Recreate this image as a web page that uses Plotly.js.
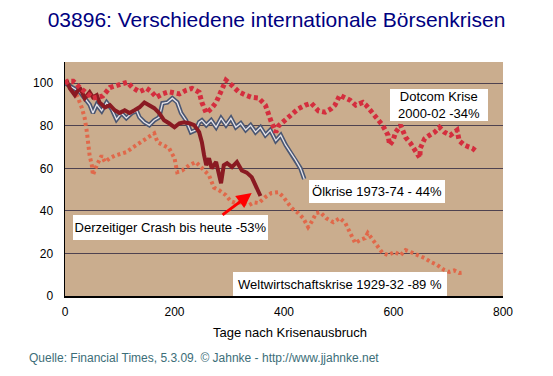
<!DOCTYPE html>
<html><head><meta charset="utf-8">
<script src="https://cdn.plot.ly/plotly-3.0.1.min.js"></script>
<style>html,body{margin:0;padding:0;background:#fff}#chart{width:553px;height:376px}</style>
</head><body><div id="chart"></div>
<script>
// Weltwirtschaftskrise 1929-32
const weltDays = [0,5,15,24,31,36,40,42,45,49,51,58,67,73,82,91,103,112,122,131,141,154,163,169,178,190,200,205,214,227,239,250,263,272,281,294,303,312,321,336,345,354,366,377,390,399,414,426,435,444,450,459,466,477,490,502,512,521,530,539,548,553,562,571,580,590,602,613,622,631,644,657,668,680,693,702,711,720,727];
const weltVals = [100,100.5,97.6,93,88.3,83.6,77,71,66,61.5,56.8,61.5,66,63,64.8,66,66.7,67.6,69.5,71,72.3,74.6,76.5,72.3,71,69.5,64.8,58.2,59,61.5,63,60,56.8,51,49.8,47.4,44.5,43.7,44,42.7,44,43.7,46.5,48.4,48.8,46.5,41.3,39,36.6,32.4,34.7,39,39.4,36.6,34.7,36.6,34.3,29.6,24.9,26.3,27.2,29.6,26.3,23,20.2,19.2,20.7,19.2,21.6,20.7,19.2,17.8,16,14.6,12.2,11.3,12,10.8,11];
// Ölkrise 1973-74
const oilDays = [0,13,27,45,51,58,67,76,85,94,103,112,122,131,136,145,154,163,172,178,187,196,205,212,221,230,239,245,250,258,267,276,285,294,303,312,321,330,339,348,357,366,375,385,394,403,412,421,430,437];
const oilVals = [100,98,96,90,86,90,87,91,88,83,86,83.6,86,87,84,81.7,80.3,82.6,84,90.6,91,93,91,86,82.6,77,78,81.7,82.6,80.3,82.6,79.3,83.6,80.3,83.6,79.3,81.2,78,80.3,77,79.3,75.6,78,73,75.6,71,67.6,64,60,55];
// Derzeitiger Crash
const crashDays = [0,4,9,18,27,36,45,51,58,63,73,82,91,100,109,118,127,136,145,154,163,172,181,190,200,209,218,227,236,245,250,254,258,263,268,276,281,285,290,296,305,314,323,332,341,348,354,357];
const crashVals = [100,100.5,97.6,94.4,98,93,95.8,93.4,94.4,91,88.7,89.7,87.3,86,87.3,86,87.3,88.7,91,89.7,88.3,86,82.6,81.2,79.3,81.2,81.7,81.2,80.3,77,72.3,66.2,61.5,64.8,60,63,58,53,61.5,62.4,60.6,63,59,58,55.9,52,49,47];
// Dotcom 2000-02
const dotcomDays = [0,5,15,27,51,69,82,103,114,123,136,149,158,167,178,190,209,221,232,245,250,258,267,276,287,294,305,317,330,341,354,366,377,385,390,403,414,426,439,450,463,475,486,493,502,512,521,531,544,550,562,571,580,590,593,599,604,613,622,631,640,648,649,657,666,675,684,693,704,716,720,729,738,744,753];
const dotcomVals = [100,101,101,98,93,94,98,100,100.5,98,96,97.6,96,93.4,95,96,95,96.7,97.6,95.8,91,86,88,91,97.6,101.4,99,96,94.4,93.4,93,89.7,81.7,77,80,83,86,88,89.7,90.6,87,86.4,88,89.7,94.4,93.4,92,89.7,91,89.7,86,83.6,80.3,75.6,71,73,77,80.3,74.6,71.8,68.5,65,69.5,74,75.6,77,79.3,77,75.6,78,73,71,70,69.5,67.6];

const xTicks = [0,200,400,600,800];
const yTicks = [0,20,40,60,80,100];

const titleText = '03896: Verschiedene internationale Börsenkrisen';
const xTitle = 'Tage nach Krisenausbruch';
const sourceText = 'Quelle: Financial Times, 5.3.09. © Jahnke - http://www.jjahnke.net';
const labelDotcom = 'Dotcom Krise<br>2000-02 -34%';
const labelOil = 'Ölkrise 1973-74 - 44%';
const labelCrash = 'Derzeitiger Crash bis heute -53%';
const labelWelt = 'Weltwirtschaftskrise 1929-32 -89 %';

const FONT = 'Arial, "Liberation Sans", sans-serif';

const traces = [
  {x: weltDays, y: weltVals, mode: 'lines', line: {color: '#E0684A', width: 4, dash: '3px,3px'}, hoverinfo: 'skip'},
  {x: oilDays, y: oilVals, mode: 'lines', line: {color: '#4A5672', width: 4.5}, hoverinfo: 'skip'},
  {x: oilDays, y: oilVals, mode: 'lines', line: {color: '#E6E4EA', width: 1.3}, hoverinfo: 'skip'},
  {x: crashDays, y: crashVals, mode: 'lines', line: {color: '#8A1A22', width: 4}, hoverinfo: 'skip'},
  {x: dotcomDays, y: dotcomVals, mode: 'lines', line: {color: '#D42E3E', width: 5, dash: '4px,3px'}, hoverinfo: 'skip'}
];

const layout = {
  width: 553, height: 376,
  margin: {l: 65, r: 50, t: 62, b: 80},
  paper_bgcolor: '#ffffff',
  plot_bgcolor: '#CAAD8E',
  showlegend: false,
  font: {family: FONT, size: 12, color: '#000'},
  title: {text: titleText, font: {family: FONT, size: 21, color: '#000080'}, x: 0.5, xref: 'container', y: 0.947, yref: 'container', yanchor: 'middle'},
  xaxis: {range: [0, 800], tickvals: xTicks, ticktext: xTicks.map(String), showgrid: false, zeroline: false,
          showline: true, linecolor: '#000', linewidth: 1.5, ticks: 'outside', ticklen: 4, tickcolor: 'rgba(0,0,0,0)',
          tickfont: {family: FONT, size: 12, color: '#000'}, fixedrange: true},
  yaxis: {range: [0, 110], tickvals: yTicks, ticktext: yTicks.map(String), showgrid: true, gridcolor: '#4E4250', gridwidth: 1,
          zeroline: false, showline: true, linecolor: '#000', linewidth: 1.5, ticks: 'outside', ticklen: 8, tickcolor: 'rgba(0,0,0,0)',
          tickfont: {family: FONT, size: 12, color: '#000'}, fixedrange: true},
  annotations: [
    {x: 683, y: 90, xref: 'x', yref: 'y', text: labelDotcom, showarrow: false, bgcolor: '#fff', width: 98, height: 32,
     borderpad: 0, borderwidth: 0, font: {family: FONT, size: 13, color: '#000'}, align: 'center'},
    {x: 570, y: 49.1, xref: 'x', yref: 'y', text: labelOil, showarrow: false, bgcolor: '#fff', width: 136, height: 23,
     borderpad: 0, borderwidth: 0, font: {family: FONT, size: 13, color: '#000'}},
    {x: 193, y: 32.2, xref: 'x', yref: 'y', text: labelCrash, showarrow: false, bgcolor: '#fff', width: 195, height: 25,
     borderpad: 0, borderwidth: 0, font: {family: FONT, size: 13, color: '#000'}},
    {x: 502, y: 5.6, xref: 'x', yref: 'y', text: labelWelt, showarrow: false, bgcolor: '#fff', width: 214, height: 24,
     borderpad: 0, borderwidth: 0, font: {family: FONT, size: 13, color: '#000'}},
    {x: 341, y: 48.4, ax: 285, ay: 37.6, xref: 'x', yref: 'y', axref: 'x', ayref: 'y', text: '', showarrow: true,
     arrowcolor: '#FF0000', arrowwidth: 3, arrowhead: 2, arrowsize: 1, standoff: 0},
    {x: 0.514, y: -0.158, xref: 'paper', yref: 'paper', text: xTitle, showarrow: false, xanchor: 'center', yanchor: 'middle',
     font: {family: FONT, size: 13, color: '#000'}},
    {x: -0.087, y: -0.265, xref: 'paper', yref: 'paper', text: sourceText, showarrow: false, xanchor: 'left', yanchor: 'middle',
     font: {family: FONT, size: 12, color: '#3C6E78'}}
  ]
};

Plotly.newPlot('chart', traces, layout, {displayModeBar: false, staticPlot: true});
</script>
</body></html>
